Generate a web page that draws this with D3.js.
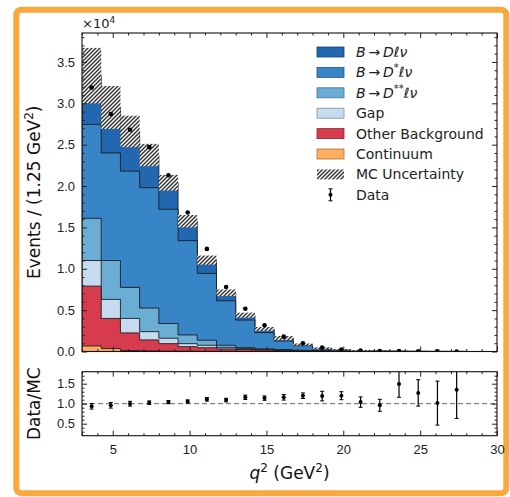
<!DOCTYPE html>
<html>
<head>
<meta charset="utf-8">
<script src="https://cdn.jsdelivr.net/npm/d3@7"></script>
<style>
  body { margin: 0; background: #fff; }
  svg { font-family: 'DejaVu Sans', sans-serif; }
  .tick text { font-size: 13px; fill: #222; }
  .tick line { stroke: #222; }
  .legend text { font-size: 14px; fill: #222; }
</style>
</head>
<body>
<svg id="chart"></svg>
<script>
// bin edges in q^2 (GeV^2), 1.25 GeV^2 wide
const binEdges = d3.range(21).map(i => 3 + 1.25 * i);

// events per bin, in units of 10^4
const continuum = [0.067, 0.035, 0.012, 0.006, 0.004, 0.003, 0.002, 0.002, 0.001, 0, 0, 0, 0, 0, 0, 0, 0, 0, 0, 0];
const otherBkg = [0.723, 0.365, 0.213, 0.134, 0.091, 0.055, 0.044, 0.028, 0.024, 0.018, 0.012, 0.008, 0.005, 0.003, 0.002, 0.001, 0.0005, 0.0003, 0.0002, 0.0001];
const gap = [0.31, 0.23, 0.175, 0.10, 0.065, 0.037, 0.029, 0.016, 0.010, 0.007, 0.005, 0.003, 0.002, 0.001, 0.001, 0.0005, 0.0003, 0.0002, 0.0001, 0.0001];
const dStarStar = [0.51, 0.47, 0.375, 0.285, 0.178, 0.105, 0.061, 0.029, 0.011, 0.007, 0.005, 0.003, 0.002, 0.001, 0, 0, 0, 0, 0, 0];
const dStar = [1.135, 1.30, 1.405, 1.455, 1.382, 1.14, 0.808, 0.538, 0.334, 0.196, 0.105, 0.056, 0.023, 0.010, 0.004, 0.003, 0.0015, 0.0007, 0.0003, 0.0002];
const dMeson = [0.59, 0.55, 0.48, 0.395, 0.32, 0.235, 0.161, 0.097, 0.06, 0.045, 0.035, 0.015, 0.008, 0.005, 0.004, 0.002, 0.001, 0.001, 0.0009, 0.0004];
const mcUncert = [0.335, 0.26, 0.19, 0.135, 0.095, 0.075, 0.055, 0.04, 0.03, 0.023, 0.026, 0.012, 0.008, 0.005, 0.004, 0.003, 0.002, 0.0015, 0.001, 0.0005];
const dataCounts = [3.19, 2.87, 2.68, 2.47, 2.13, 1.68, 1.24, 0.78, 0.516, 0.318, 0.18, 0.10, 0.047, 0.024, 0.011, 0.006, 0.0045, 0.0025, 0.0012, 0.0008];

// Data/MC ratio panel
const ratioValues = [0.935, 0.96, 1.00, 1.025, 1.04, 1.055, 1.11, 1.09, 1.16, 1.14, 1.16, 1.20, 1.19, 1.20, 1.04, 0.96, 1.49, 1.27, 1.015, 1.35];
const ratioErrors = [0.07, 0.07, 0.06, 0.045, 0.04, 0.04, 0.045, 0.045, 0.055, 0.055, 0.07, 0.07, 0.12, 0.10, 0.13, 0.15, 0.33, 0.33, 0.55, 0.72];

const mainTicks = [0, 0.5, 1.0, 1.5, 2.0, 2.5, 3.0, 3.5];
const ratioTicks = [0.5, 1.0, 1.5];
const xTicks = [5, 10, 15, 20, 25, 30];

const components = [
	{ name: 'B→Dℓν', values: dMeson, color: '#2367b0' },
	{ name: 'B→D*ℓν', values: dStar, color: '#3784c6' },
	{ name: 'B→D**ℓν', values: dStarStar, color: '#6aaed6' },
	{ name: 'Gap', values: gap, color: '#c6dbef' },
	{ name: 'Other Background', values: otherBkg, color: '#d63c4d' },
	{ name: 'Continuum', values: continuum, color: '#fdae61' },
];

const width = 510;
const height = 497;
const svg = d3.select('#chart').attr('width', width).attr('height', height);

// orange frame
svg.append('rect')
	.attr('x', 16.3).attr('y', 9.7)
	.attr('width', 490).attr('height', 483.5)
	.attr('rx', 5)
	.attr('fill', '#fff')
	.attr('stroke', '#f9a83e')
	.attr('stroke-width', 6);

const plotLeft = 82;
const plotRight = 497;
const mainTop = 33;
const mainBottom = 351.5;
const ratioTop = 371.7;
const ratioBottom = 435.7;

const x = d3.scaleLinear().domain([3, 30]).range([plotLeft, plotRight]);
const y = d3.scaleLinear().domain([0, 3.85]).range([mainBottom, mainTop]);
const yr = d3.scaleLinear().domain([0.2, 1.8]).range([ratioBottom, ratioTop]);

const defs = svg.append('defs');
const hatch = defs.append('pattern')
	.attr('id', 'hatch')
	.attr('patternUnits', 'userSpaceOnUse')
	.attr('width', 4).attr('height', 4);
hatch.append('rect').attr('width', 4).attr('height', 4).attr('fill', '#fff');
hatch.append('path')
	.attr('d', 'M-1,1 l2,-2 M0,4 l4,-4 M3,5 l2,-2')
	.attr('stroke', '#333')
	.attr('stroke-width', 1.45);

defs.append('clipPath').attr('id', 'clip-main')
	.append('rect').attr('x', plotLeft).attr('y', mainTop)
	.attr('width', plotRight - plotLeft).attr('height', mainBottom - mainTop);
defs.append('clipPath').attr('id', 'clip-ratio')
	.append('rect').attr('x', plotLeft).attr('y', ratioTop)
	.attr('width', plotRight - plotLeft).attr('height', ratioBottom - ratioTop);

// cumulative stack, bottom (continuum) to top (B->D)
const nBins = dataCounts.length;
const stackOrder = components.slice().reverse();
let running = new Array(nBins).fill(0);
stackOrder.forEach(c => {
	running = running.map((v, i) => v + c.values[i]);
	c.top = running.slice();
});
const mcTotal = running;

function stepPath(tops) {
	let d = `M${x(binEdges[0])},${y(0)}`;
	tops.forEach((v, i) => {
		d += `L${x(binEdges[i])},${y(v)}L${x(binEdges[i + 1])},${y(v)}`;
	});
	d += `L${x(binEdges[nBins])},${y(0)}Z`;
	return d;
}

const mainG = svg.append('g').attr('clip-path', 'url(#clip-main)');

mainG.selectAll('.stack')
	.data(components)
	.join('path')
	.attr('class', 'stack')
	.attr('d', d => stepPath(d.top))
	.attr('fill', d => d.color)
	.attr('stroke', '#1d1d1d')
	.attr('stroke-width', 0.9);

mainG.selectAll('.unc')
	.data(mcTotal)
	.join('rect')
	.attr('class', 'unc')
	.attr('x', (d, i) => x(binEdges[i]))
	.attr('width', (d, i) => x(binEdges[i + 1]) - x(binEdges[i]))
	.attr('y', (d, i) => y(d + mcUncert[i]))
	.attr('height', (d, i) => y(d - mcUncert[i]) - y(d + mcUncert[i]))
	.attr('fill', 'url(#hatch)');

const binCenter = i => (binEdges[i] + binEdges[i + 1]) / 2;

mainG.selectAll('.data')
	.data(dataCounts)
	.join('circle')
	.attr('class', 'data')
	.attr('cx', (d, i) => x(binCenter(i)))
	.attr('cy', d => y(d))
	.attr('r', 2.3)
	.attr('fill', '#000');

// ratio panel
const ratioG = svg.append('g').attr('clip-path', 'url(#clip-ratio)');
ratioG.append('line')
	.attr('x1', plotLeft).attr('x2', plotRight)
	.attr('y1', yr(1)).attr('y2', yr(1))
	.attr('stroke', '#666').attr('stroke-width', 1)
	.attr('stroke-dasharray', '5,3');

const rp = ratioG.selectAll('.rp')
	.data(ratioValues)
	.join('g')
	.attr('class', 'rp')
	.attr('transform', (d, i) => `translate(${x(binCenter(i))},0)`);
rp.append('line')
	.attr('y1', (d, i) => yr(d - ratioErrors[i]))
	.attr('y2', (d, i) => yr(d + ratioErrors[i]))
	.attr('stroke', '#000').attr('stroke-width', 1.2);
rp.append('line')
	.attr('x1', -2).attr('x2', 2)
	.attr('y1', (d, i) => yr(d - ratioErrors[i]))
	.attr('y2', (d, i) => yr(d - ratioErrors[i]))
	.attr('stroke', '#000').attr('stroke-width', 1);
rp.append('line')
	.attr('x1', -2).attr('x2', 2)
	.attr('y1', (d, i) => yr(d + ratioErrors[i]))
	.attr('y2', (d, i) => yr(d + ratioErrors[i]))
	.attr('stroke', '#000').attr('stroke-width', 1);
rp.append('circle')
	.attr('cy', d => yr(d))
	.attr('r', 2)
	.attr('fill', '#000');

// axes: inward ticks on all four sides
const xMinor = d3.range(3, 31, 1).filter(v => v % 5 !== 0);
function xAxes(top, bottom, labels) {
	svg.append('g').attr('transform', `translate(0,${bottom})`)
		.call(d3.axisBottom(x).tickValues(xTicks).tickSize(-5).tickPadding(9)
			.tickFormat(labels ? d3.format('d') : ''));
	svg.append('g').attr('transform', `translate(0,${bottom})`)
		.call(d3.axisBottom(x).tickValues(xMinor).tickSize(-2.5).tickFormat(''));
	svg.append('g').attr('transform', `translate(0,${top})`)
		.call(d3.axisTop(x).tickValues(xTicks).tickSize(-5).tickFormat(''));
	svg.append('g').attr('transform', `translate(0,${top})`)
		.call(d3.axisTop(x).tickValues(xMinor).tickSize(-2.5).tickFormat(''));
}
function yAxes(scale, major, minor) {
	svg.append('g').attr('transform', `translate(${plotLeft},0)`)
		.call(d3.axisLeft(scale).tickValues(major).tickSize(-5).tickPadding(7).tickFormat(d3.format('.1f')));
	svg.append('g').attr('transform', `translate(${plotLeft},0)`)
		.call(d3.axisLeft(scale).tickValues(minor).tickSize(-2.5).tickFormat(''));
	svg.append('g').attr('transform', `translate(${plotRight},0)`)
		.call(d3.axisRight(scale).tickValues(major).tickSize(-5).tickFormat(''));
	svg.append('g').attr('transform', `translate(${plotRight},0)`)
		.call(d3.axisRight(scale).tickValues(minor).tickSize(-2.5).tickFormat(''));
}
xAxes(mainTop, mainBottom, false);
xAxes(ratioTop, ratioBottom, true);
yAxes(y, mainTicks, d3.range(0.1, 3.85, 0.1).filter(v => Math.abs(v * 2 - Math.round(v * 2)) > 0.01));
yAxes(yr, ratioTicks, d3.range(0.3, 1.8, 0.1).filter(v => Math.abs(v * 2 - Math.round(v * 2)) > 0.01));
svg.selectAll('.domain').remove();

[[mainTop, mainBottom], [ratioTop, ratioBottom]].forEach(([t, b]) => {
	svg.append('rect')
		.attr('x', plotLeft).attr('y', t)
		.attr('width', plotRight - plotLeft).attr('height', b - t)
		.attr('fill', 'none').attr('stroke', '#111').attr('stroke-width', 1.1);
});

// multiplier
const mult = svg.append('text').attr('x', plotLeft).attr('y', 28)
	.style('font-size', '13px').attr('fill', '#222');
mult.append('tspan').text('×10');
mult.append('tspan').attr('dy', -5).style('font-size', '9px').text('4');

// axis labels
const yl = svg.append('text')
	.attr('transform', `translate(40,${(mainTop + mainBottom) / 2}) rotate(-90)`)
	.attr('text-anchor', 'middle').style('font-size', '17px').attr('fill', '#111');
yl.append('tspan').text('Events / (1.25 GeV');
yl.append('tspan').attr('dy', -7).style('font-size', '12px').text('2');
yl.append('tspan').attr('dy', 7).text(')');

svg.append('text')
	.attr('transform', `translate(40,${(ratioTop + ratioBottom) / 2}) rotate(-90)`)
	.attr('text-anchor', 'middle').style('font-size', '17px').attr('fill', '#111')
	.text('Data/MC');

const xl = svg.append('text')
	.attr('x', (plotLeft + plotRight) / 2).attr('y', 479)
	.attr('text-anchor', 'middle').style('font-size', '17px').attr('fill', '#111');
xl.append('tspan').style('font-style', 'italic').text('q');
xl.append('tspan').attr('dy', -7).style('font-size', '12px').text('2');
xl.append('tspan').attr('dy', 7).text(' (GeV');
xl.append('tspan').attr('dy', -7).style('font-size', '12px').text('2');
xl.append('tspan').attr('dy', 7).text(')');

// legend
const legend = svg.append('g').attr('class', 'legend');
const rowY = i => 52 + 20.4 * i;
const arrow = '\u2009→\u2009';
const legendLabels = [
	{ parts: [['B', 'i'], [arrow, 'n'], ['D', 'i'], ['ℓν', 'i']] },
	{ parts: [['B', 'i'], [arrow, 'n'], ['D', 'i'], ['*', 's'], ['ℓν', 'i']] },
	{ parts: [['B', 'i'], [arrow, 'n'], ['D', 'i'], ['**', 's'], ['ℓν', 'i']] },
	{ parts: [['Gap', 'n']] },
	{ parts: [['Other Background', 'n']] },
	{ parts: [['Continuum', 'n']] },
	{ parts: [['MC Uncertainty', 'n']] },
	{ parts: [['Data', 'n']] },
];

components.forEach((c, i) => {
	legend.append('rect')
		.attr('x', 317).attr('y', rowY(i) - 5)
		.attr('width', 27).attr('height', 10)
		.attr('fill', c.color)
		.attr('stroke', d3.color(c.color).darker(1.2))
		.attr('stroke-width', 0.8);
});
legend.append('rect')
	.attr('x', 317).attr('y', rowY(6) - 5)
	.attr('width', 27).attr('height', 10)
	.attr('fill', 'url(#hatch)');
legend.append('line')
	.attr('x1', 330.5).attr('x2', 330.5)
	.attr('y1', rowY(7) - 6).attr('y2', rowY(7) + 6)
	.attr('stroke', '#000').attr('stroke-width', 1.2);
[-6, 6].forEach(o => legend.append('line')
	.attr('x1', 328.5).attr('x2', 332.5)
	.attr('y1', rowY(7) + o).attr('y2', rowY(7) + o)
	.attr('stroke', '#000'));
legend.append('circle').attr('cx', 330.5).attr('cy', rowY(7)).attr('r', 2).attr('fill', '#000');

legendLabels.forEach((l, i) => {
	const t = legend.append('text').attr('x', 356).attr('y', rowY(i) + 5);
	let shifted = false;
	l.parts.forEach(([s, kind]) => {
		const ts = t.append('tspan').text(s);
		if (kind === 'i') ts.style('font-style', 'italic');
		if (kind === 's') { ts.attr('dy', -6).style('font-size', '10px'); shifted = true; }
		else if (shifted) { ts.attr('dy', 6); shifted = false; }
	});
});
</script>
</body>
</html>
